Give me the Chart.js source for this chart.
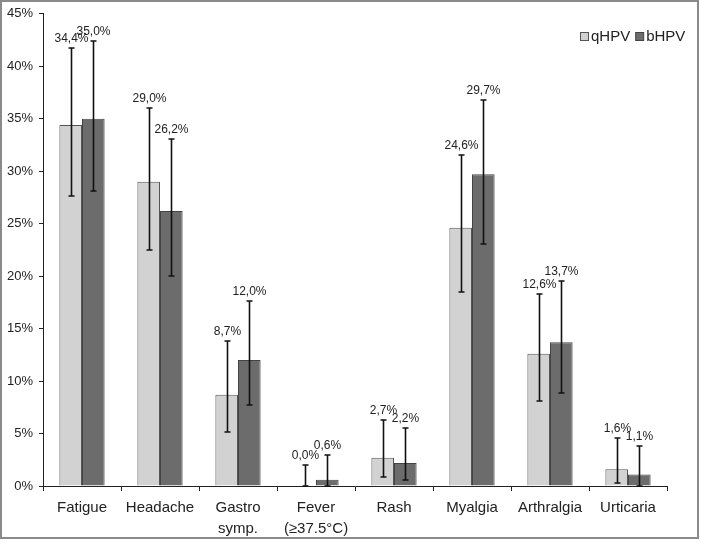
<!DOCTYPE html>
<html>
<head>
<meta charset="utf-8">
<script src="https://cdn.jsdelivr.net/npm/chart.js@4/dist/chart.umd.min.js"></script>
<style>
    body { margin: 0; background: #fff; }
    #wrap { position: absolute; left: 0; top: 0; width: 699px; height: 539px; box-sizing: border-box; border: 2px solid #8a8a8a; }
    #holder { position: absolute; left: 0; top: 0; width: 701px; height: 543px; }
</style>
</head>
<body>
<div id="wrap"></div>
<div id="holder"><canvas id="canvas" width="701" height="543"></canvas></div>
<script>
const categories = ['Fatigue', 'Headache', ['Gastro', 'symp.'], ['Fever', '(≥37.5°C)'], 'Rash', 'Myalgia', 'Arthralgia', 'Urticaria'];
const qHPV = [34.4, 29.0, 8.7, 0.0, 2.7, 24.6, 12.6, 1.6];
const bHPV = [35.0, 26.2, 12.0, 0.6, 2.2, 29.7, 13.7, 1.1];
// 95% CI
const qLow = [27.6, 22.5, 5.1, 0.0, 0.9, 18.5, 8.1, 0.3];
const qHigh = [41.7, 36.0, 13.8, 2.0, 6.3, 31.5, 18.3, 4.6];
const bLow = [28.1, 20.0, 7.7, 0.0, 0.6, 23.1, 8.9, 0.0];
const bHigh = [42.4, 33.1, 17.6, 3.0, 5.5, 36.8, 19.5, 3.8];
const yTicks = [0, 5, 10, 15, 20, 25, 30, 35, 40, 45];

const lows = [qLow, bLow];
const highs = [qHigh, bHigh];

function fmt(v) {
    return v.toFixed(1).replace('.', ',') + '%';
}

const errorBars = {
    id: 'errorBars',
    afterDatasetsDraw(chart) {
        const ctx = chart.ctx;
        const y = chart.scales.y;
        ctx.save();
        chart.data.datasets.forEach((ds, di) => {
            chart.getDatasetMeta(di).data.forEach((bar, i) => {
                const x = Math.round(bar.x) + 0.5;
                const top = Math.round(y.getPixelForValue(highs[di][i]));
                const bot = Math.round(y.getPixelForValue(lows[di][i]));
                ctx.strokeStyle = '#111';
                ctx.lineWidth = 1.6;
                ctx.beginPath();
                ctx.moveTo(x, top);
                ctx.lineTo(x, bot);
                ctx.moveTo(x - 3, top);
                ctx.lineTo(x + 3, top);
                ctx.moveTo(x - 3, bot);
                ctx.lineTo(x + 3, bot);
                ctx.stroke();
                ctx.fillStyle = '#222';
                ctx.font = '12px "Liberation Sans", Arial, sans-serif';
                ctx.textAlign = 'center';
                ctx.textBaseline = 'bottom';
                ctx.fillText(fmt(ds.data[i]), x, top - 3);
            });
        });
        ctx.restore();
    }
};

const boxLegend = {
    id: 'boxLegend',
    afterDraw(chart) {
        const ctx = chart.ctx;
        ctx.save();
        ctx.font = '15px "Liberation Sans", Arial, sans-serif';
        ctx.textBaseline = 'middle';
        ctx.textAlign = 'left';
        let x = 580;
        const yMid = 37;
        chart.data.datasets.forEach((ds) => {
            ctx.fillStyle = ds.backgroundColor;
            ctx.strokeStyle = ds.borderColor;
            ctx.lineWidth = 1;
            ctx.fillRect(x + 0.5, yMid - 4.5, 8, 8);
            ctx.strokeRect(x + 0.5, yMid - 4.5, 8, 8);
            ctx.fillStyle = '#222';
            ctx.fillText(ds.label, x + 11, yMid);
            x += 11 + ctx.measureText(ds.label).width + 5;
        });
        ctx.restore();
    }
};

new Chart('canvas', {
    type: 'bar',
    data: {
        labels: categories,
        datasets: [
            {
                label: 'qHPV',
                data: qHPV,
                backgroundColor: '#d2d2d2',
                borderColor: '#555555',
                borderWidth: 1,
            },
            {
                label: 'bHPV',
                data: bHPV,
                backgroundColor: '#6c6c6c',
                borderColor: '#444444',
                borderWidth: 1,
            },
        ],
    },
    options: {
        responsive: false,
        animation: false,
        layout: { padding: { top: 13, right: 34, left: 0, bottom: 0 } },
        categoryPercentage: 0.58,
        barPercentage: 1.0,
        plugins: {
            legend: { display: false },
            tooltip: { enabled: false },
        },
        scales: {
            x: {
                grid: { offset: true, drawOnChartArea: false, color: '#222', tickLength: 5 },
                border: { color: '#222', width: 1 },
                ticks: {
                    color: '#222',
                    font: { family: '"Liberation Sans", Arial, sans-serif', size: 15, lineHeight: 1.4 },
                    padding: 6,
                    maxRotation: 0,
                    autoSkip: false,
                },
                afterFit(s) { s.height = 57; },
            },
            y: {
                min: 0,
                max: 45,
                afterBuildTicks(s) { s.ticks = yTicks.map((v) => ({ value: v })); },
                grid: { drawOnChartArea: false, color: '#222', tickLength: 4 },
                border: { color: '#222', width: 1 },
                ticks: {
                    color: '#222',
                    font: { family: '"Liberation Sans", Arial, sans-serif', size: 13 },
                    padding: 6,
                    callback: (v) => v + '%',
                },
                afterFit(s) { s.width = 43; },
            },
        },
    },
    plugins: [errorBars, boxLegend],
});
</script>
</body>
</html>
